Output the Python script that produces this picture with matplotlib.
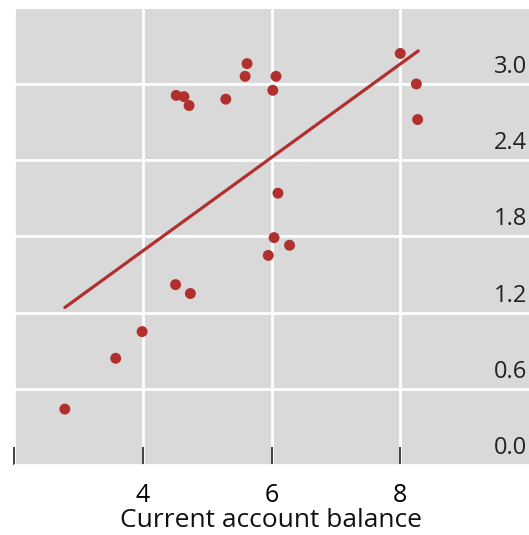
import matplotlib.pyplot as plt
import matplotlib.transforms as mtransforms

plt.rcParams['font.family'] = ['Open Sans', 'DejaVu Sans']

# scatter points
balance = [2.79, 3.58, 3.99, 4.51, 4.74, 4.52, 4.64, 4.72, 5.29, 5.62,
           5.59, 6.07, 6.02, 6.10, 6.04, 6.28, 5.95, 8.00, 8.25, 8.27]
values = [0.44, 0.84, 1.05, 1.42, 1.35, 2.91, 2.90, 2.83, 2.88, 3.16,
          3.06, 3.06, 2.95, 2.14, 1.79, 1.73, 1.65, 3.24, 3.00, 2.72]

# fitted line endpoints
fit_x = [2.79, 8.28]
fit_y = [1.24, 3.26]

x_ticks = [2, 4, 6, 8]
x_labels = ['', '4', '6', '8']
y_ticks = [0.0, 0.6, 1.2, 1.8, 2.4, 3.0]

red = '#b0302e'

fig = plt.figure(figsize=(5.29, 5.35), dpi=100)
ax = fig.add_axes([14 / 529, 1 - 465 / 535, 1 - 14 / 529, (465 - 9) / 535])
ax.set_facecolor('#d9d9d9')

ax.plot(fit_x, fit_y, color=red, lw=2.3, solid_capstyle='round', zorder=3)
ax.scatter(balance, values, s=62, color=red, edgecolors='none', zorder=4)

ax.set_xlim(2, 10)
ax.set_ylim(0, 3.59)
ax.set_xticks(x_ticks)
ax.set_xticklabels(x_labels, fontsize=18)
ax.set_yticks(y_ticks)
ax.set_yticklabels([])
ax.tick_params(axis='y', length=0)
ax.tick_params(axis='x', direction='in', length=13, width=1.3, color='#333333', pad=13)
ax.grid(True, color='white', lw=2)
ax.set_axisbelow(True)
for s in ax.spines.values():
    s.set_visible(False)

trans = mtransforms.blended_transform_factory(ax.transAxes, ax.transData)
offset = mtransforms.ScaledTranslation(-2 / 100, 5 / 100, fig.dpi_scale_trans)
for v in y_ticks:
    ax.text(1.0, v, f'{v:.1f}', transform=trans + offset, ha='right', va='bottom',
            fontsize=17, color='#222222')

ax.set_xlabel('Current account balance', fontsize=19, labelpad=0, color='#111111')

fig.savefig('out.png', dpi=100)
